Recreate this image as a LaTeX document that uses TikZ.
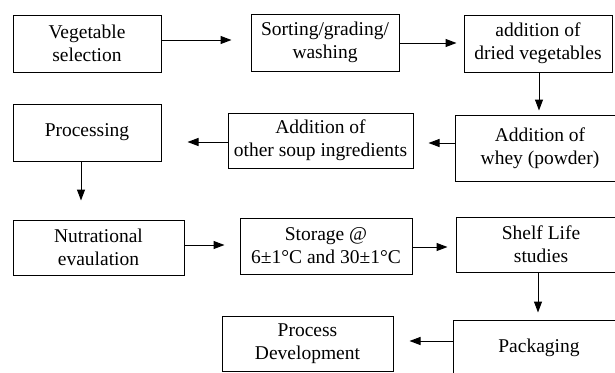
\documentclass[tikz,border=0pt]{standalone}
\usepackage{fontspec}
\setmainfont{Liberation Serif}
\usetikzlibrary{arrows.meta}
\tikzset{
  box/.style={draw=black, line width=1pt, inner sep=0pt, align=center,
    font=\fontsize{19.5pt}{23pt}\selectfont},
  arr/.style={draw=black, line width=1pt, -{Triangle[length=11pt,width=8pt]}}
}
\begin{document}
\begin{tikzpicture}[x=1pt,y=-1pt]
\useasboundingbox (0,0) rectangle (615,372);
% row 1
\node[box, minimum width=148pt, minimum height=57pt] (b1) at (87,43.5) {Vegetable\\selection};
\node[box, minimum width=148pt, minimum height=57pt] (b2) at (325,42.5) {Sorting/grading/\\washing};
\node[box, minimum width=148pt, minimum height=57pt] (b3) at (538,43.5) {addition of\\dried vegetables};
% row 2
\node[box, minimum width=148pt, minimum height=57pt] (b4) at (87,132.5) {Processing};
\node[box, minimum width=185pt, minimum height=55pt] (b5) at (320.5,140.5) {Addition of\\other soup ingredients};
\node[box, minimum width=170pt, minimum height=66pt] (b6) at (540,148) {Addition of\\whey (powder)};
% row 3
\node[box, minimum width=171pt, minimum height=55pt] (b7) at (98.5,247.5) {Nutrational\\evaulation};
\node[box, minimum width=172pt, minimum height=56pt] (b8) at (326,246) {Storage @\\6±1°C and 30±1°C};
\node[box, minimum width=170pt, minimum height=55pt] (b9) at (541,244.5) {Shelf Life\\studies};
% row 4
\node[box, minimum width=171pt, minimum height=55pt] (b10) at (307.5,343.5) {Process\\Development};
\node[box, minimum width=172pt, minimum height=56pt] (b11) at (539,348) {Packaging};
% connectors
\coordinate (y1) at (0,40);
\coordinate (y2) at (0,43);
\draw[arr, shorten >=19pt] (b1.east |- y1) -- (b2.west |- y1);
\draw[arr, shorten >=7pt] (b2.east |- y2) -- (b3.west |- y2);
\coordinate (x3) at (539,0);
\draw[arr, shorten >=4pt] (b3.south -| x3) -- (b6.north -| x3);
\coordinate (y4) at (0,143);
\draw[arr, shorten >=15pt] (b6.west |- y4) -- (b5.east |- y4);
\coordinate (y5) at (0,142);
\draw[arr, shorten >=26pt] (b5.west |- y5) -- (b4.east |- y5);
\coordinate (x6) at (81,0);
\draw[arr, shorten >=19pt] (b4.south -| x6) -- (b7.north -| x6);
\coordinate (y7) at (0,245);
\draw[arr, shorten >=15pt] (b7.east |- y7) -- (b8.west |- y7);
\coordinate (y8) at (0,247);
\draw[arr, shorten >=8pt] (b8.east |- y8) -- (b9.west |- y8);
\coordinate (x9) at (538,0);
\draw[arr, shorten >=7pt] (b9.south -| x9) -- (b11.north -| x9);
\coordinate (y10) at (0,341);
\draw[arr, shorten >=16pt] (b11.west |- y10) -- (b10.east |- y10);
\end{tikzpicture}
\end{document}
